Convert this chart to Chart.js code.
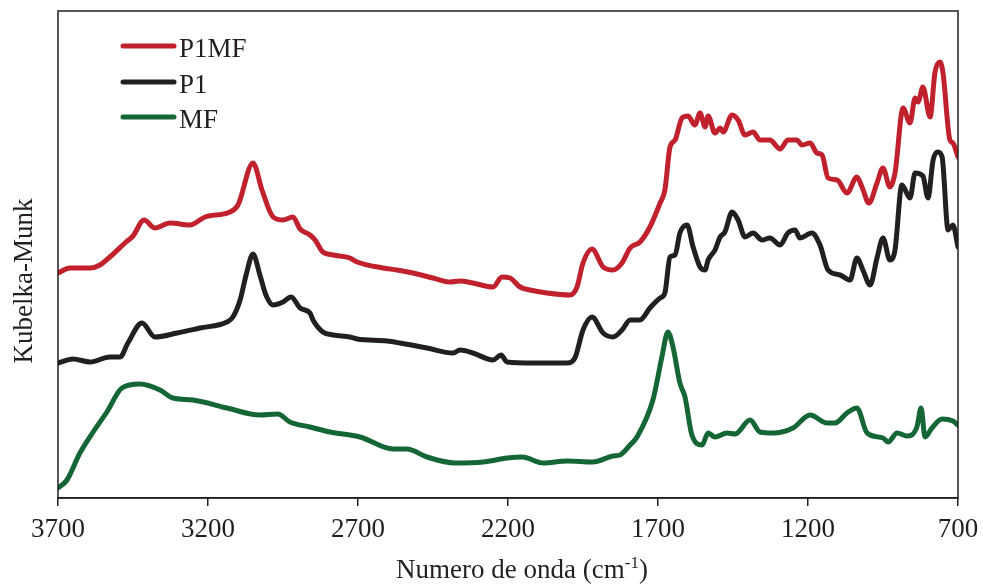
<!DOCTYPE html>
<html>
<head>
<meta charset="utf-8">
<script src="https://cdn.jsdelivr.net/npm/chart.js@4.4.0/dist/chart.umd.min.js"></script>
<style>
  html, body { margin: 0; padding: 0; background: #ffffff; }
  #wrap { width: 983px; height: 585px; position: relative; }
</style>
</head>
<body>
<div id="wrap"><canvas id="c" width="983" height="585"></canvas></div>
<script>
// ---- Data (wavenumber in cm-1, Kubelka-Munk arbitrary units) ----
const seriesNames = ["P1MF", "P1", "MF"];
const xTicks = [3700, 3200, 2700, 2200, 1700, 1200, 700];

const p1mfWave = [3700,3660,3593,3560,3527,3477,3450,3413,3377,3327,3260,3210,3127,3100,3050,3020,2983,2950,2917,2893,2860,2843,2817,2783,2727,2703,2617,2570,2517,2450,2393,2360,2317,2250,2220,2193,2160,2127,2070,1993,1970,1950,1920,1883,1850,1820,1793,1760,1727,1693,1677,1660,1643,1620,1600,1577,1560,1543,1533,1510,1493,1483,1453,1433,1410,1383,1360,1327,1293,1267,1237,1220,1193,1170,1153,1133,1103,1070,1037,1020,997,970,950,927,910,883,860,843,833,817,793,777,760,750,727,717,700];
const p1mfKM   = [2.25,2.30,2.30,2.33,2.41,2.55,2.62,2.78,2.70,2.75,2.73,2.81,2.86,2.93,3.35,3.08,2.81,2.78,2.81,2.69,2.63,2.58,2.46,2.43,2.40,2.36,2.30,2.28,2.25,2.20,2.16,2.17,2.15,2.11,2.21,2.20,2.11,2.08,2.05,2.03,2.11,2.35,2.49,2.31,2.28,2.35,2.50,2.56,2.71,2.95,3.08,3.51,3.58,3.80,3.82,3.73,3.85,3.71,3.82,3.65,3.70,3.66,3.83,3.78,3.63,3.66,3.58,3.58,3.49,3.58,3.58,3.53,3.55,3.45,3.43,3.20,3.18,3.05,3.21,3.11,2.95,3.15,3.30,3.11,3.25,3.90,3.75,4.00,3.96,4.11,3.81,4.25,4.36,4.25,3.58,3.55,3.41];

const p1Wave = [3700,3650,3593,3527,3493,3467,3420,3377,3303,3227,3137,3117,3093,3073,3050,3027,3007,2983,2950,2923,2893,2860,2850,2817,2783,2727,2703,2603,2560,2470,2383,2360,2317,2250,2223,2203,2117,2003,1977,1950,1920,1883,1850,1820,1793,1760,1727,1693,1677,1660,1643,1627,1603,1583,1560,1543,1533,1510,1493,1477,1453,1433,1410,1383,1353,1327,1293,1267,1243,1227,1187,1160,1133,1093,1060,1037,1017,993,970,950,927,910,887,860,843,817,800,783,767,753,733,717,700];
const p1KM   = [1.35,1.39,1.36,1.41,1.41,1.55,1.75,1.61,1.65,1.70,1.76,1.81,1.98,2.23,2.44,2.23,2.03,1.93,1.96,2.01,1.90,1.85,1.78,1.66,1.63,1.61,1.59,1.57,1.55,1.50,1.45,1.48,1.45,1.38,1.43,1.36,1.35,1.35,1.40,1.68,1.81,1.65,1.61,1.68,1.78,1.78,1.90,2.00,2.05,2.41,2.43,2.65,2.73,2.51,2.31,2.28,2.38,2.48,2.61,2.66,2.86,2.78,2.61,2.65,2.58,2.60,2.53,2.65,2.68,2.60,2.65,2.53,2.28,2.23,2.18,2.40,2.28,2.13,2.40,2.60,2.38,2.48,3.13,3.00,3.25,3.22,3.00,3.38,3.46,3.41,2.68,2.73,2.51];

const mfWave = [3700,3670,3627,3583,3537,3487,3427,3360,3317,3250,3137,3027,2967,2927,2860,2793,2693,2583,2537,2470,2377,2283,2203,2153,2083,2003,1917,1850,1827,1793,1770,1717,1687,1667,1650,1627,1610,1587,1553,1533,1510,1470,1443,1393,1360,1317,1250,1193,1137,1110,1070,1037,1003,950,933,903,870,837,823,810,787,753,717,700];
const mfKM   = [0.10,0.18,0.45,0.66,0.86,1.10,1.14,1.08,1.00,0.98,0.90,0.83,0.84,0.76,0.71,0.66,0.61,0.49,0.49,0.41,0.35,0.36,0.40,0.41,0.35,0.37,0.36,0.42,0.43,0.53,0.61,0.98,1.41,1.66,1.51,1.15,1.01,0.63,0.53,0.65,0.61,0.65,0.64,0.78,0.66,0.65,0.70,0.83,0.75,0.75,0.85,0.90,0.65,0.60,0.56,0.65,0.62,0.71,0.90,0.61,0.70,0.79,0.77,0.73];

const seriesColors = ["#C1212C", "#231F20", "#146634"];

// ---- Build chart ----
const FONT = "'Liberation Serif', 'Times New Roman', serif";
Chart.defaults.font.family = FONT;
Chart.defaults.color = "#231F20";

function pts(xs, ys) { return xs.map((x, i) => ({ x: x, y: ys[i] })); }

const waves = [p1mfWave, p1Wave, mfWave];
const kms = [p1mfKM, p1KM, mfKM];

const datasets = seriesNames.map((name, i) => ({
  label: name,
  data: pts(waves[i], kms[i]),
  borderColor: seriesColors[i],
  backgroundColor: seriesColors[i],
  borderWidth: 5,
  pointRadius: 0,
  fill: false,
  tension: 0.35,
  cubicInterpolationMode: 'monotone',
  borderJoinStyle: 'round',
  borderCapStyle: 'round'
}));

const framePlugin = {
  id: 'frame',
  afterDraw(chart) {
    const ctx = chart.ctx;
    const a = chart.chartArea;
    ctx.save();
    // frame
    ctx.strokeStyle = "#231F20";
    ctx.lineWidth = 1.5;
    ctx.strokeRect(a.left, a.top, a.right - a.left, a.bottom - a.top);

    // legend
    const ly = [46, 82, 117];
    chart.data.datasets.forEach((ds, i) => {
      ctx.beginPath();
      ctx.strokeStyle = ds.borderColor;
      ctx.lineWidth = 5;
      ctx.lineCap = 'round';
      ctx.moveTo(123, ly[i]);
      ctx.lineTo(174, ly[i]);
      ctx.stroke();
      ctx.fillStyle = "#231F20";
      ctx.font = "27px " + FONT;
      ctx.textAlign = 'left';
      ctx.textBaseline = 'alphabetic';
      ctx.fillText(ds.label, 179, ly[i] + 11);
    });

    // y title
    ctx.save();
    ctx.translate(32, 281);
    ctx.rotate(-Math.PI / 2);
    ctx.font = "27px " + FONT;
    ctx.textAlign = 'center';
    ctx.textBaseline = 'alphabetic';
    ctx.fillStyle = "#231F20";
    ctx.fillText("Kubelka-Munk", 0, 0);
    ctx.restore();

    // x title with superscript
    const main = "Numero de onda (cm";
    const sup = "-1";
    const close = ")";
    ctx.font = "27px " + FONT;
    const w1 = ctx.measureText(main).width;
    const w3 = ctx.measureText(close).width;
    ctx.font = "17px " + FONT;
    const w2 = ctx.measureText(sup).width;
    const total = w1 + w2 + w3;
    let x0 = 522 - total / 2;
    const base = 578;
    ctx.fillStyle = "#231F20";
    ctx.textAlign = 'left';
    ctx.textBaseline = 'alphabetic';
    ctx.font = "27px " + FONT;
    ctx.fillText(main, x0, base);
    ctx.font = "17px " + FONT;
    ctx.fillText(sup, x0 + w1, base - 10);
    ctx.font = "27px " + FONT;
    ctx.fillText(close, x0 + w1 + w2, base);
    ctx.restore();
  }
};

new Chart(document.getElementById('c'), {
  type: 'line',
  data: { datasets: datasets },
  options: {
    responsive: false,
    animation: false,
    devicePixelRatio: 1,
    layout: { padding: { left: 58, right: 25, top: 11, bottom: 0 } },
    plugins: { legend: { display: false }, tooltip: { enabled: false } },
    scales: {
      x: {
        type: 'linear',
        min: 700,
        max: 3700,
        reverse: true,
        afterFit(scale) { scale.height = 87; scale.paddingLeft = 0; scale.paddingRight = 0; },
        afterBuildTicks(scale) { scale.ticks = xTicks.map(v => ({ value: v })); },
        ticks: {
          font: { size: 27 },
          color: "#231F20",
          padding: 8,
          maxRotation: 0,
          autoSkip: false,
          callback: (v) => String(v)
        },
        grid: {
          display: true,
          drawOnChartArea: false,
          drawTicks: true,
          tickLength: 8,
          color: "#231F20",
          lineWidth: 1.5
        },
        border: { display: true, color: "#231F20", width: 1.5 }
      },
      y: {
        type: 'linear',
        display: false,
        min: 0,
        max: 4.87
      }
    }
  },
  plugins: [framePlugin]
});
</script>
</body>
</html>
